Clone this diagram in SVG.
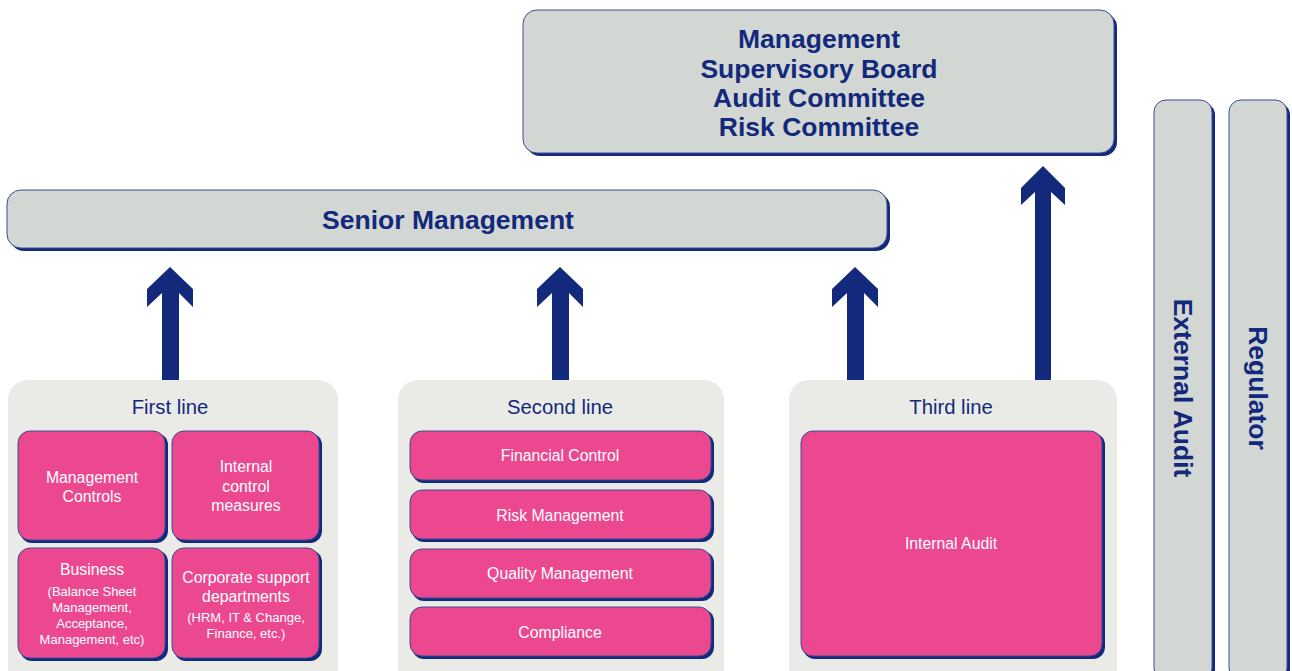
<svg xmlns="http://www.w3.org/2000/svg" width="1292" height="671" viewBox="0 0 1292 671">
<style>
.sh{fill:#13297b}
.g{fill:#d3d7d4;stroke:#3a4c92;stroke-width:1}
.p{fill:#ec4890;stroke:#3a4c92;stroke-width:1}
.c{fill:#eaebe7}
.hb{font-family:"Liberation Sans",Arial,sans-serif;font-weight:bold;fill:#13297b;text-anchor:middle}
.h{font-family:"Liberation Sans",Arial,sans-serif;fill:#13297b;text-anchor:middle;font-size:20.3px}
.w{font-family:"Liberation Sans",Arial,sans-serif;fill:#ffffff;text-anchor:middle;font-size:15.8px}
.ws{font-family:"Liberation Sans",Arial,sans-serif;fill:#ffffff;text-anchor:middle;font-size:13px}
.a{fill:#13297b}
</style>
<rect width="1292" height="671" fill="#ffffff"/>
<g id="top-board">
<rect class="sh" x="526" y="13" width="591" height="143" rx="14"/>
<rect class="g" x="523" y="10" width="591" height="143" rx="14"/>
<text class="hb" font-size="26.5" x="819" y="48">Management</text>
<text class="hb" font-size="26.5" x="819" y="78">Supervisory Board</text>
<text class="hb" font-size="26.5" x="819" y="107">Audit Committee</text>
<text class="hb" font-size="26.5" x="819" y="136">Risk Committee</text>
</g>
<g id="senior-management">
<rect class="sh" x="10" y="193" width="880" height="58" rx="14"/>
<rect class="g" x="7" y="190" width="880" height="58" rx="14"/>
<text class="hb" font-size="26.5" x="448" y="229">Senior Management</text>
</g>
<g id="external-audit">
<rect class="sh" x="1157" y="103" width="58" height="580" rx="12"/>
<rect class="g" x="1154" y="100" width="58" height="580" rx="12"/>
<text class="hb" font-size="26.5" transform="translate(1174,388) rotate(90)" x="0" y="0">External Audit</text>
</g>
<g id="regulator">
<rect class="sh" x="1232" y="103" width="58" height="580" rx="12"/>
<rect class="g" x="1229" y="100" width="58" height="580" rx="12"/>
<text class="hb" font-size="26.5" transform="translate(1249,388) rotate(90)" x="0" y="0">Regulator</text>
</g>
<g id="connectors">
<path class="a" d="M170,267 L193,289 L193,307 L179,293 L179,381 L162,381 L162,293 L147,307 L147,289 Z"/>
<path class="a" d="M560,267 L583,289 L583,307 L569,293 L569,381 L552,381 L552,293 L537,307 L537,289 Z"/>
<path class="a" d="M855,267 L878,289 L878,307 L864,293 L864,381 L847,381 L847,293 L832,307 L832,289 Z"/>
<path class="a" d="M1043,166 L1065,188 L1065,205 L1051,192 L1051,381 L1035,381 L1035,192 L1021,205 L1021,188 Z"/>
</g>
<g id="first-line">
<rect class="c" x="8" y="380" width="330" height="310" rx="20"/>
<text class="h" x="170" y="414">First line</text>
</g>
<g id="management-controls">
<rect class="sh" x="20" y="433" width="148" height="110" rx="12"/>
<rect class="p" x="18" y="431" width="147" height="109" rx="12"/>
<text class="w" x="92" y="483">Management</text>
<text class="w" x="92" y="502">Controls</text>
</g>
<g id="internal-control-measures">
<rect class="sh" x="174" y="433" width="148" height="110" rx="12"/>
<rect class="p" x="172" y="431" width="147" height="109" rx="12"/>
<text class="w" x="246" y="472">Internal</text>
<text class="w" x="246" y="492">control</text>
<text class="w" x="246" y="511">measures</text>
</g>
<g id="business">
<rect class="sh" x="20" y="550" width="148" height="111" rx="12"/>
<rect class="p" x="18" y="548" width="147" height="110" rx="12"/>
<text class="w" x="92" y="575">Business</text>
<text class="ws" x="92" y="596">(Balance Sheet</text>
<text class="ws" x="92" y="612">Management,</text>
<text class="ws" x="92" y="628">Acceptance,</text>
<text class="ws" x="92" y="644">Management, etc)</text>
</g>
<g id="corporate-support">
<rect class="sh" x="174" y="550" width="148" height="111" rx="12"/>
<rect class="p" x="172" y="548" width="147" height="110" rx="12"/>
<text class="w" x="246" y="583">Corporate support</text>
<text class="w" x="246" y="602">departments</text>
<text class="ws" x="246" y="622">(HRM, IT &amp; Change,</text>
<text class="ws" x="246" y="638">Finance, etc.)</text>
</g>
<g id="second-line">
<rect class="c" x="398" y="380" width="326" height="310" rx="20"/>
<text class="h" x="560" y="414">Second line</text>
</g>
<g id="financial-control">
<rect class="sh" x="412" y="433" width="302" height="50" rx="12"/>
<rect class="p" x="410" y="431" width="301" height="49" rx="12"/>
<text class="w" x="560" y="461">Financial Control</text>
</g>
<g id="risk-management">
<rect class="sh" x="412" y="492" width="302" height="50" rx="12"/>
<rect class="p" x="410" y="490" width="301" height="49" rx="12"/>
<text class="w" x="560" y="521">Risk Management</text>
</g>
<g id="quality-management">
<rect class="sh" x="412" y="551" width="302" height="50" rx="12"/>
<rect class="p" x="410" y="549" width="301" height="49" rx="12"/>
<text class="w" x="560" y="579">Quality Management</text>
</g>
<g id="compliance">
<rect class="sh" x="412" y="609" width="302" height="50" rx="12"/>
<rect class="p" x="410" y="607" width="301" height="49" rx="12"/>
<text class="w" x="560" y="638">Compliance</text>
</g>
<g id="third-line">
<rect class="c" x="789" y="380" width="328" height="310" rx="20"/>
<text class="h" x="951" y="414">Third line</text>
</g>
<g id="internal-audit">
<rect class="sh" x="803" y="433" width="302" height="226" rx="12"/>
<rect class="p" x="801" y="431" width="301" height="225" rx="12"/>
<text class="w" x="951" y="549">Internal Audit</text>
</g>
</svg>
